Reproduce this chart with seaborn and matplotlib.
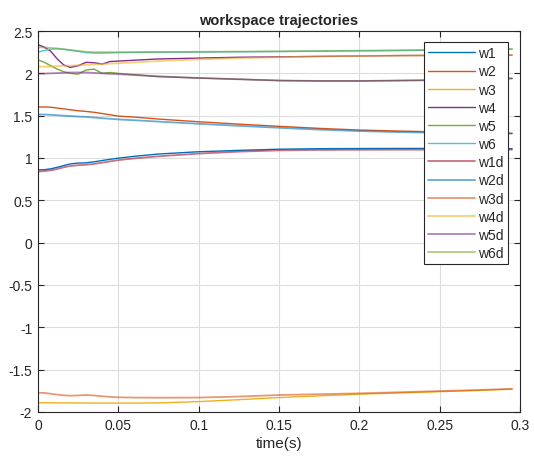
import matplotlib
matplotlib.use("Agg")
import matplotlib.pyplot as plt
from matplotlib.ticker import FuncFormatter, MultipleLocator
import seaborn as sns

# sample times (s)
t = [0, 0.004, 0.008, 0.012, 0.016, 0.02, 0.025, 0.03, 0.035, 0.04, 0.045, 0.05,
     0.06, 0.075, 0.1, 0.125, 0.15, 0.175, 0.2, 0.225, 0.25, 0.275, 0.295]

# measured workspace coordinates
w1 = [0.86, 0.862, 0.872, 0.89, 0.91, 0.93, 0.94, 0.943, 0.955, 0.97, 0.985, 0.998,
      1.02, 1.047, 1.074, 1.09, 1.104, 1.11, 1.112, 1.113, 1.113, 1.112, 1.11]
w2 = [1.603, 1.603, 1.60, 1.59, 1.58, 1.57, 1.558, 1.55, 1.54, 1.525, 1.51, 1.495,
      1.483, 1.46, 1.428, 1.40, 1.374, 1.35, 1.33, 1.318, 1.307, 1.298, 1.29]
w3 = [-1.89, -1.891, -1.892, -1.893, -1.893, -1.893, -1.894, -1.894, -1.895, -1.895, -1.895, -1.895,
      -1.895, -1.893, -1.878, -1.855, -1.83, -1.81, -1.79, -1.775, -1.76, -1.745, -1.73]
w4 = [2.34, 2.31, 2.26, 2.17, 2.10, 2.07, 2.09, 2.13, 2.125, 2.11, 2.14, 2.145,
      2.155, 2.17, 2.18, 2.19, 2.195, 2.20, 2.205, 2.21, 2.212, 2.215, 2.215]
w5 = [2.16, 2.13, 2.09, 2.05, 2.02, 2.0, 1.99, 2.04, 2.05, 2.0, 2.01, 2.0,
      1.985, 1.96, 1.945, 1.93, 1.915, 1.91, 1.91, 1.915, 1.92, 1.93, 1.94]
w6 = [2.25, 2.27, 2.285, 2.29, 2.285, 2.275, 2.26, 2.245, 2.24, 2.24, 2.242, 2.245,
      2.248, 2.25, 2.252, 2.255, 2.258, 2.262, 2.266, 2.27, 2.275, 2.28, 2.285]

# desired workspace coordinates
w1d = [0.84, 0.845, 0.855, 0.87, 0.89, 0.905, 0.915, 0.92, 0.93, 0.945, 0.96, 0.975,
       0.995, 1.02, 1.052, 1.075, 1.09, 1.095, 1.097, 1.098, 1.099, 1.10, 1.10]
w2d = [1.514, 1.514, 1.51, 1.505, 1.50, 1.495, 1.49, 1.485, 1.478, 1.47, 1.463, 1.456,
       1.446, 1.43, 1.404, 1.38, 1.357, 1.335, 1.318, 1.306, 1.298, 1.293, 1.29]
w3d = [-1.773, -1.775, -1.785, -1.795, -1.803, -1.808, -1.805, -1.80, -1.805, -1.815, -1.822, -1.827,
       -1.83, -1.832, -1.83, -1.818, -1.80, -1.79, -1.78, -1.767, -1.753, -1.74, -1.727]
w4d = [2.08, 2.08, 2.08, 2.085, 2.09, 2.09, 2.095, 2.10, 2.105, 2.11, 2.115, 2.12,
       2.13, 2.145, 2.165, 2.18, 2.19, 2.20, 2.205, 2.21, 2.212, 2.215, 2.215]
w5d = [1.995, 1.997, 2.0, 2.003, 2.006, 2.01, 2.01, 2.01, 2.005, 2.0, 1.995, 1.99,
       1.98, 1.965, 1.945, 1.93, 1.915, 1.91, 1.91, 1.915, 1.92, 1.93, 1.94]
w6d = [2.31, 2.305, 2.30, 2.295, 2.285, 2.275, 2.265, 2.255, 2.25, 2.25, 2.25, 2.25,
       2.25, 2.252, 2.254, 2.257, 2.26, 2.264, 2.268, 2.272, 2.277, 2.282, 2.287]

labels = ["w1", "w2", "w3", "w4", "w5", "w6", "w1d", "w2d", "w3d", "w4d", "w5d", "w6d"]
series = [w1, w2, w3, w4, w5, w6, w1d, w2d, w3d, w4d, w5d, w6d]
colors = ["#0072BD", "#D95319", "#EDB120", "#7E2F8E", "#77AC30", "#4DBEEE",
          "#A2142F", "#0072BD", "#D95319", "#EDB120", "#7E2F8E", "#77AC30"]

sns.set_style("whitegrid")
plt.rcParams["font.family"] = ["Liberation Sans", "DejaVu Sans"]

fig = plt.figure(figsize=(5.34, 4.64), dpi=100)
ax = fig.add_axes([0.071, 0.110, 0.903, 0.821])

for lab, ys, col in zip(labels, series, colors):
    desired = lab.endswith("d")
    sns.lineplot(x=t, y=ys, ax=ax, color=col, label=lab,
                 linewidth=1.3 if desired else 1.0,
                 alpha=0.6 if desired else 1.0,
                 estimator=None, sort=False)

ax.set_xlim(0, 0.3)
ax.set_ylim(-2, 2.5)
ax.xaxis.set_major_locator(MultipleLocator(0.05))
ax.yaxis.set_major_locator(MultipleLocator(0.5))

def fmt(v, pos):
    s = f"{v:.2f}".rstrip("0").rstrip(".")
    return "0" if s in ("-0", "0") else s

ax.xaxis.set_major_formatter(FuncFormatter(fmt))
ax.yaxis.set_major_formatter(FuncFormatter(fmt))

ax.grid(True, color="#dcdcdc", linewidth=0.8)
for sp in ax.spines.values():
    sp.set_visible(True)
    sp.set_color("#262626")
    sp.set_linewidth(0.8)
ax.tick_params(direction="in", length=4, width=0.8, color="#262626",
               labelsize=10, labelcolor="#262626", top=True, right=True,
               bottom=True, left=True, pad=4)

ax.set_title("workspace trajectories", fontsize=10.5, fontweight="bold", pad=5)
ax.set_xlabel("time(s)", fontsize=11, color="#262626", labelpad=3)
ax.set_ylabel("")

leg = ax.legend(loc="upper right", bbox_to_anchor=(0.975, 0.971), fontsize=10,
                frameon=True, fancybox=False, framealpha=1, edgecolor="#262626",
                handlelength=3.4, labelspacing=0.3, borderpad=0.3,
                handletextpad=0.2, borderaxespad=0)
leg.get_frame().set_linewidth(0.8)

fig.savefig("out.png", dpi=100)
